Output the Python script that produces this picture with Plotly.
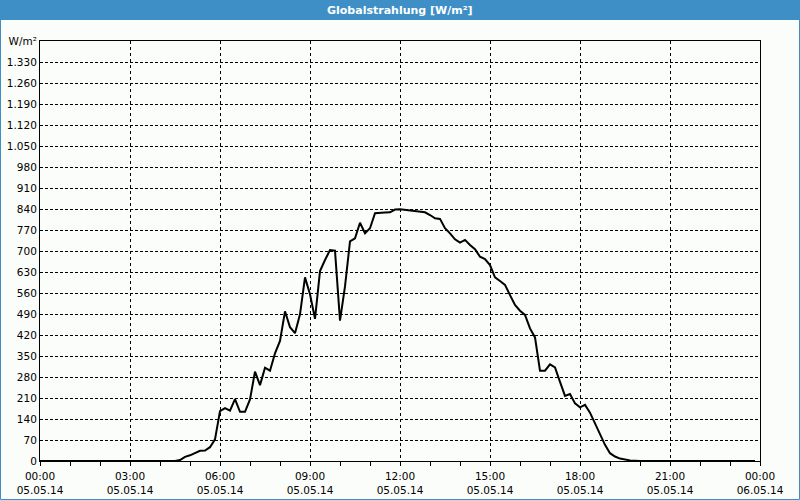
import plotly.graph_objects as go

# ---- data (05.05.14, 10-minute readings, W/m²) ----
times = [
    "00:00", "04:30", "04:40", "04:50", "05:00", "05:10", "05:20", "05:30", "05:40", "05:50",
    "06:00", "06:10", "06:20", "06:30", "06:40", "06:50", "07:00", "07:10", "07:20", "07:30",
    "07:40", "07:50", "08:00", "08:10", "08:20", "08:30", "08:40", "08:50", "09:00", "09:10",
    "09:20", "09:30", "09:40", "09:50", "10:00", "10:10", "10:20", "10:30", "10:40", "10:50",
    "11:00", "11:10", "11:20", "11:30", "11:40", "11:50", "12:00", "12:10", "12:20", "12:30",
    "12:40", "12:50", "13:00", "13:10", "13:20", "13:30", "13:40", "13:50", "14:00", "14:10",
    "14:20", "14:30", "14:40", "14:50", "15:00", "15:10", "15:20", "15:30", "15:40", "15:50",
    "16:00", "16:10", "16:20", "16:30", "16:40", "16:50", "17:00", "17:10", "17:20", "17:30",
    "17:40", "17:50", "18:00", "18:10", "18:20", "18:30", "18:40", "18:50", "19:00", "19:10",
    "19:20", "19:30", "19:40", "19:50", "20:00", "23:50",
]
radiation = [
    0, 0, 3, 14, 19, 26, 34, 35, 46, 72,
    166, 176, 168, 206, 164, 164, 205, 298, 253, 311,
    301, 359, 400, 499, 446, 426, 489, 612, 556, 474,
    633, 670, 703, 701, 468, 582, 732, 742, 794, 759,
    776, 826, 828, 828, 829, 838, 839, 837, 835, 834,
    833, 829, 820, 809, 807, 776, 759, 739, 728, 737,
    720, 706, 681, 673, 653, 612, 600, 587, 553, 520,
    501, 487, 442, 412, 301, 301, 322, 312, 264, 217,
    223, 192, 179, 187, 161, 127, 92, 54, 26, 15,
    8, 4, 2, 1, 0, 0,
]
day = "2014-05-05"
x_ticks = ["2014-05-05 00:00", "2014-05-05 03:00", "2014-05-05 06:00", "2014-05-05 09:00",
           "2014-05-05 12:00", "2014-05-05 15:00", "2014-05-05 18:00", "2014-05-05 21:00",
           "2014-05-06 00:00"]
x_time_labels = ["00:00", "03:00", "06:00", "09:00", "12:00", "15:00", "18:00", "21:00", "00:00"]
x_date_labels = ["05.05.14", "05.05.14", "05.05.14", "05.05.14", "05.05.14",
                 "05.05.14", "05.05.14", "05.05.14", "06.05.14"]
y_ticks = list(range(0, 1401, 70))
y_ticktext = ["0", "70", "140", "210", "280", "350", "420", "490", "560", "630", "700", "770",
              "840", "910", "980", "1.050", "1.120", "1.190", "1.260", "1.330", "W/m²"]
title_text = "Globalstrahlung [W/m²]"

BG = "#fbfdfa"
BLUE = "#3d8fc6"
FONT = "DejaVu Sans"

W, H = 800, 500
L, R, T, B = 40, 40, 41, 39
pw, ph = W - L - R, H - T - B

def px_x(p):
    return (p - L) / pw

def px_y(p):
    return 1 - (p - T) / ph

x_range = ["2014-05-05 00:00", "2014-05-06 00:00"]

fig = go.Figure()
fig.add_trace(go.Scatter(
    x=[f"{day} {t}" for t in times], y=radiation,
    mode="lines", line=dict(color="black", width=2), hoverinfo="x+y",
))
# invisible trace to activate the date-label axis
fig.add_trace(go.Scatter(x=x_range, y=[0, 0], xaxis="x2", mode="lines",
                         line=dict(width=0), hoverinfo="skip", showlegend=False))

fig.update_layout(
    width=W, height=H,
    margin=dict(l=L, r=R, t=T, b=B, pad=0),
    paper_bgcolor=BG, plot_bgcolor=BG,
    showlegend=False,
    font=dict(family=FONT, size=10, color="black"),
    xaxis=dict(
        type="date", range=x_range, automargin=False,
        tickmode="array", tickvals=x_ticks, ticktext=x_time_labels,
        ticks="outside", ticklen=4, tickcolor="black",
        ticklabelstandoff=1,
        showline=True, linecolor="black", linewidth=1, mirror=True,
        showgrid=True, gridcolor="black", gridwidth=1, griddash="3px,3px",
        zeroline=False,
        minor=dict(dtick=3600000, ticks="outside", ticklen=4, tickcolor="black", showgrid=False),
        tickfont=dict(family=FONT, size=10.5),
    ),
    xaxis2=dict(
        type="date", range=x_range, automargin=False, overlaying="x", anchor="y", side="bottom",
        tickmode="array", tickvals=x_ticks, ticktext=x_date_labels,
        ticks="", ticklabelstandoff=21,
        showline=False, showgrid=False, zeroline=False,
        tickfont=dict(family=FONT, size=10.5),
    ),
    yaxis=dict(
        range=[0, 1400], automargin=False,
        tickmode="array", tickvals=y_ticks, ticktext=y_ticktext,
        ticks="", showline=True, linecolor="black", linewidth=1, mirror=True,
        showgrid=True, gridcolor="black", gridwidth=1, griddash="3px,2px",
        zeroline=False,
        tickfont=dict(family=FONT, size=10.5),
    ),
    shapes=[
        dict(type="rect", xref="paper", yref="paper",
             x0=px_x(0), x1=px_x(800), y0=px_y(20), y1=px_y(0),
             fillcolor=BLUE, line=dict(width=0), layer="above"),
        dict(type="rect", xref="paper", yref="paper",
             x0=px_x(0.5), x1=px_x(799.5), y0=px_y(499.5), y1=px_y(0.5),
             fillcolor="rgba(0,0,0,0)", line=dict(color=BLUE, width=1), layer="above"),
    ],
    annotations=[
        dict(text=f"<b>{title_text}</b>", xref="paper", yref="paper",
             x=0.5, y=px_y(10), xanchor="center", yanchor="middle",
             showarrow=False, font=dict(family=FONT, size=11, color="white")),
    ],
)

fig.write_html("out.html")
